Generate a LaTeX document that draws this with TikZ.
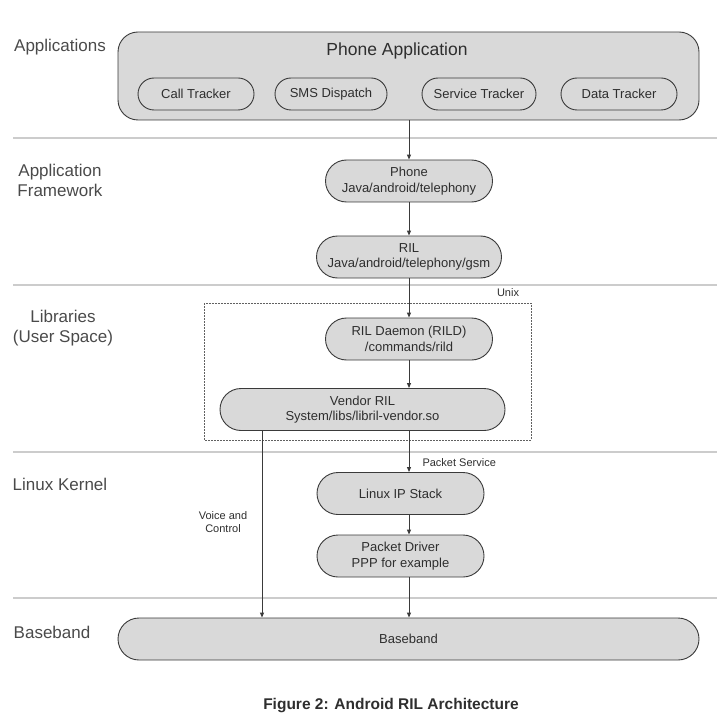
\documentclass[tikz,border=0pt]{standalone}
\usepackage{fontspec}
\setmainfont{Liberation Sans}
\usetikzlibrary{arrows.meta}

\definecolor{boxfill}{HTML}{D9D9D9}
\definecolor{boxline}{HTML}{3A3A3A}
\definecolor{sepline}{HTML}{CCCCCC}
\definecolor{labelgray}{HTML}{4A4A4A}
\definecolor{textgray}{HTML}{2E2E2E}

\tikzset{
  layer/.style={font=\fontsize{17}{20}\selectfont, text=labelgray, align=center},
  pill/.style={draw=boxline, line width=0.9pt, fill=boxfill, rounded corners=21pt,
    minimum height=42pt, inner sep=0pt, align=center, text=textgray,
    font=\fontsize{13}{15.5}\selectfont},
  small pill/.style={pill, rounded corners=16pt, minimum height=32pt},
  note/.style={font=\fontsize{11}{13.5}\selectfont, text=textgray, align=center},
  arr/.style={line width=1pt, draw=boxline, -{Triangle[length=5pt,width=4pt]}},
  sep/.style={line width=1.2pt, draw=sepline}
}

\begin{document}
\begin{tikzpicture}[x=1pt,y=-1pt]
\useasboundingbox (0,0) rectangle (717,719);

% layer separators
\draw[sep] (13,138) -- (717,138);
\draw[sep] (13,285) -- (717,285);
\draw[sep] (13,452) -- (717,452);
\draw[sep] (13,598) -- (717,598);

% layer names
\node[layer] (lapp) at (60,47) {Applications};
\node[layer] (lfw) at (60,180) {Application\\Framework};
\node[layer] (llib) at (63,328) {Libraries\\(User Space)};
\node[layer] (lkern) at (60,484) {Linux Kernel};
\node[layer] (lbase) at (52,632) {Baseband};

% applications
\node[pill, rounded corners=20pt, minimum width=581pt, minimum height=88pt] (app) at (408.5,76) {};
\node[text=textgray, font=\fontsize{17.5}{20}\selectfont] (apptitle) at (397,51) {Phone Application};
\node[small pill, minimum width=116pt] (call) at (196,94) {Call Tracker};
\node[small pill, minimum width=112pt] (sms) at (331,94) {SMS Dispatch};
\node[small pill, minimum width=114pt] (service) at (479,94) {Service Tracker};
\node[small pill, minimum width=116pt] (data) at (619,94) {Data Tracker};

% framework
\node[pill, minimum width=167pt] (phone) at (409,181) {Phone\\Java/android/telephony};
\node[pill, minimum width=185pt] (ril) at (409,257) {RIL\\Java/android/telephony/gsm};

% libraries
\draw[boxline!80, line width=0.8pt, dash pattern=on 2pt off 1pt] (204,303) rectangle (531,440);
\node[note] (unix) at (508,293) {Unix};
\node[pill, minimum width=167pt] (rild) at (409,339) {RIL Daemon (RILD)\\/commands/rild};
\node[pill, minimum width=285pt] (vendor) at (362.5,409.5) {Vendor RIL\\System/libs/libril-vendor.so};

% kernel
\node[pill, minimum width=167pt] (ipstack) at (400.5,493.5) {Linux IP Stack};
\node[pill, minimum width=167pt] (driver) at (400.5,556) {Packet Driver\\PPP for example};
\node[note, anchor=west] (packet) at (419,463) {Packet Service};
\node[note] (voice) at (223,522) {Voice and\\Control};

% baseband
\node[pill, minimum width=581pt] (baseband) at (408.5,639) {Baseband};

\coordinate (datax) at (409,0);
\coordinate (voicex) at (262,0);

\draw[arr] (app.south -| datax) -- (phone.north);
\draw[arr] (phone.south) -- (ril.north);
\draw[arr] (ril.south) -- (rild.north);
\draw[arr] (rild.south) -- (vendor.north -| datax);
\draw[arr] (vendor.south -| datax) -- (ipstack.north -| datax);
\draw[arr] (ipstack.south -| datax) -- (driver.north -| datax);
\draw[arr] (driver.south -| datax) -- (baseband.north -| datax);
\draw[arr] (vendor.south -| voicex) -- (baseband.north -| voicex);

\node[font=\bfseries\fontsize{15.5}{18}\selectfont, text=textgray] (caption) at (391,706) {Figure 2: Android RIL Architecture};

\end{tikzpicture}
\end{document}
